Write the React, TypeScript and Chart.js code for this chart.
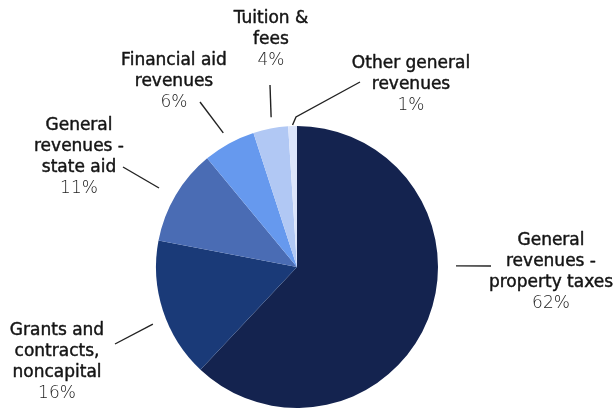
import React, { useEffect, useRef } from "react";
import { Chart, registerables } from "chart.js";

Chart.register(...registerables);

// ---- data ----
const categories: string[][] = [
  ["General", "revenues -", "property taxes"],
  ["Grants and", "contracts,", "noncapital"],
  ["General", "revenues -", "state aid"],
  ["Financial aid", "revenues"],
  ["Tuition &", "fees"],
  ["Other general", "revenues"],
];
const values: number[] = [62, 16, 11, 6, 4, 1];
const colors: string[] = ["#14234F", "#1A3A78", "#4A6CB4", "#6699EE", "#B1C8F4", "#DCE5FB"];

// ---- label layout (annotation placement, not data) ----
const labelLayout = [
  { x: 551, y: 241, angleShift: -22, gap: 18, path: [[491, 266]] },
  { x: 57, y: 331, angleShift: -3.6, gap: 14, path: [[115, 344]] },
  { x: 79, y: 126, angleShift: -0.8, gap: 18, path: [[123, 167]] },
  { x: 174, y: 61, angleShift: 0, gap: 12, path: [[200, 102]] },
  { x: 271, y: 19, angleShift: 1, gap: 11, path: [[270, 85]] },
  { x: 411, y: 64, angleShift: 0, gap: 1, path: [[296, 117], [360, 82]] },
];

const FONT = '"DejaVu Sans", sans-serif';
const LINE_H = 21;

const labelPlugin = {
  id: "pieLabels",
  afterDraw(chart: any) {
    const ctx = chart.ctx as CanvasRenderingContext2D;
    const meta = chart.getDatasetMeta(0);
    meta.data.forEach((arc: any, i: number) => {
      const L = labelLayout[i];
      const p = arc.getProps(["x", "y", "startAngle", "endAngle", "outerRadius"], true);
      const mid = (p.startAngle + p.endAngle) / 2 + (L.angleShift * Math.PI) / 180;
      const r = p.outerRadius + L.gap;
      const ix = p.x + Math.cos(mid) * r;
      const iy = p.y + Math.sin(mid) * r;
      ctx.save();
      ctx.strokeStyle = "#222";
      ctx.lineWidth = 1.4;
      ctx.beginPath();
      ctx.moveTo(ix, iy);
      L.path.forEach((pt) => ctx.lineTo(pt[0], pt[1]));
      ctx.stroke();

      ctx.textAlign = "center";
      ctx.textBaseline = "middle";
      const lines = categories[i];
      ctx.fillStyle = "#141414";
      ctx.strokeStyle = "#141414";
      ctx.lineWidth = 0.45;
      ctx.lineJoin = "round";
      ctx.font = `500 17px ${FONT}`;
      lines.forEach((t, k) => {
        ctx.fillText(t, L.x, L.y + k * LINE_H);
        ctx.strokeText(t, L.x, L.y + k * LINE_H);
      });
      ctx.fillStyle = "#1c1c1c";
      ctx.font = `200 17px ${FONT}`;
      ctx.fillText(`${values[i]}%`, L.x, L.y + lines.length * LINE_H);
      ctx.restore();
    });
  },
};

export default function App() {
  const ref = useRef<HTMLCanvasElement | null>(null);
  useEffect(() => {
    document.body.style.margin = "0";
    const canvas = ref.current!;
    const chart = new Chart(canvas, {
      type: "pie",
      data: {
        labels: categories.map((c) => c.join(" ")),
        datasets: [
          {
            data: values,
            backgroundColor: colors,
            borderWidth: 0,
          },
        ],
      },
      options: {
        responsive: false,
        animation: false,
        layout: { padding: { left: 156, right: 178, top: 126, bottom: 1 } },
        plugins: {
          legend: { display: false },
          tooltip: { enabled: false },
        },
      },
      plugins: [labelPlugin],
    });
    return () => chart.destroy();
  }, []);
  return (
    <div style={{ width: 616, height: 409, background: "#fff" }}>
      <canvas ref={ref} width={616} height={409} style={{ display: "block" }} />
    </div>
  );
}
